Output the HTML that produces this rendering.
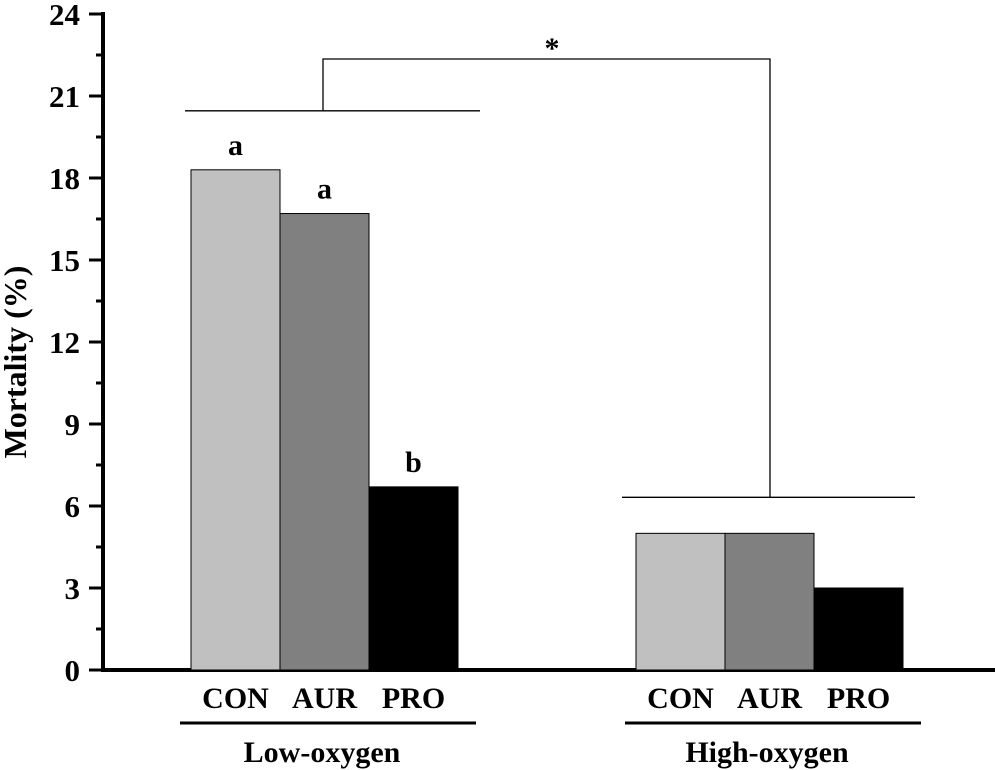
<!DOCTYPE html>
<html><head><meta charset="utf-8"><style>
html,body{margin:0;padding:0;background:#fff;}
svg{display:block;font-family:"Liberation Serif",serif;font-weight:bold;}
</style></head><body>
<svg id="chart" width="995" height="770">
<g id="axes"></g><g id="bars"></g><g id="annot"></g>
</svg>
<script>
const groups = ["Low-oxygen","High-oxygen"];
const categories = ["CON","AUR","PRO"];
const lowValues = [18.3, 16.7, 6.7];
const highValues = [5.0, 5.0, 3.0];
const letters = ["a","a","b"];
const yTicks = [0,3,6,9,12,15,18,21,24];
const colors = ["#c0c0c0","#808080","#000000"];
const NS="http://www.w3.org/2000/svg";
function y(v){return 670 - v*(656/24);}
const groupX=[191,636], barW=89;
function mk(tag,attrs,parent,text){const e=document.createElementNS(NS,tag);for(const k in attrs)e.setAttribute(k,attrs[k]);if(text!==undefined)e.textContent=text;parent.appendChild(e);return e;}
const axes=document.getElementById('axes'),bars=document.getElementById('bars'),annot=document.getElementById('annot');
let e;
e=mk('line',{x1:103,y1:12,x2:103,y2:672,stroke:'#000','stroke-width':4},axes);


e=mk('line',{x1:101,y1:670,x2:995,y2:670,stroke:'#000','stroke-width':4},axes);


yTicks.forEach((t,i)=>{
  e=mk('line',{x1:89,y1:y(t),x2:103,y2:y(t),stroke:'#000','stroke-width':3},axes);
  
  
  if(i<yTicks.length-1){const m=(t+yTicks[i+1])/2;
    e=mk('line',{x1:96,y1:y(m),x2:103,y2:y(m),stroke:'#000','stroke-width':3},axes);
    
    }
  e=mk('text',{x:80,y:y(t)+11,'text-anchor':'end','font-size':31},axes,String(t));
  
  
});
e=mk('text',{x:0,y:0,transform:'translate(26,362) rotate(-90)','text-anchor':'middle','font-size':32},axes,'Mortality (%)');


[lowValues,highValues].forEach((vals,g)=>{
  vals.forEach((v,i)=>{
    const x=groupX[g]+i*barW;
    e=mk('rect',{x:x,y:y(v),width:barW,height:670-y(v),fill:colors[i],stroke:'#000','stroke-width':1},bars);
    
    
    e=mk('text',{x:x+barW/2,y:708,'text-anchor':'middle','font-size':30},annot,categories[i]);
    
    
    if(g===0){
      e=mk('text',{x:x+barW/2,y:y(v)-15,'text-anchor':'middle','font-size':30},annot,letters[i]);
      
      
    }
  });
  const gx=groupX[g]-11;
  e=mk('line',{x1:gx,y1:723,x2:gx+296,y2:723,stroke:'#000','stroke-width':3},annot);
  
  
  e=mk('text',{x:gx+142,y:762,'text-anchor':'middle','font-size':30},annot,groups[g]);
  
  
});
const lowTop=Math.max(...lowValues), highTop=Math.max(...highValues);
const ly=y(lowTop)-59, hy=y(highTop)-36;
e=mk('path',{d:`M185 ${ly} H480 M323 ${ly} V59 H770 V${hy} M622 ${hy} H915`,fill:'none',stroke:'#000','stroke-width':1.3},annot);


e=mk('text',{x:552,y:58,'text-anchor':'middle','font-size':30},annot,'*');


</script>
</body></html>
